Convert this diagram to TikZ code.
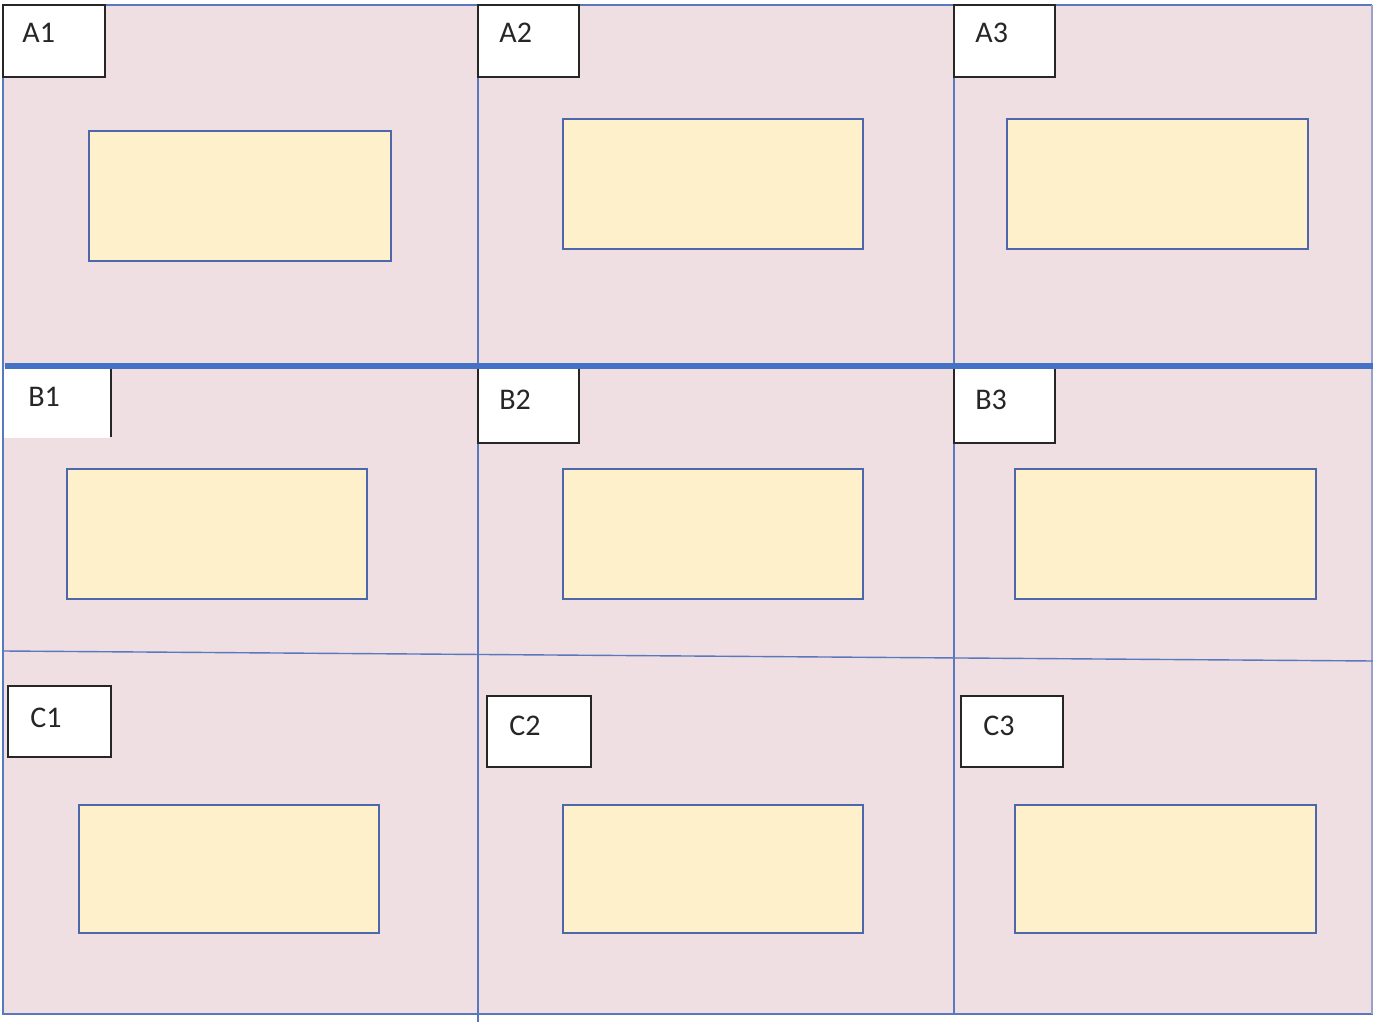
\documentclass[tikz,border=0pt]{standalone}
\usepackage{fontspec}
\setmainfont{Carlito}
\definecolor{pinkbg}{RGB}{239,223,226}
\definecolor{ylw}{RGB}{255,240,204}
\definecolor{bline}{RGB}{68,114,196}
\definecolor{ybord}{RGB}{76,104,170}
\definecolor{gridb}{RGB}{90,120,190}
\begin{document}
\begin{tikzpicture}[x=0.5pt,y=-0.5pt,
  lbl/.style={draw=black!85,fill=white,line width=0.75pt},
  ybox/.style={draw=ybord,fill=ylw,line width=0.75pt},
  gline/.style={draw=gridb,line width=0.7pt},
  txt/.style={anchor=base west,inner sep=0pt,font=\fontsize{15pt}{18pt}\selectfont,text=black!85}]
\useasboundingbox (0,0) rectangle (1373,1022);
% background
\path[fill=pinkbg] (3,5) rectangle (1372,1014);
% outer border
\draw[gline] (1372,5) -- (3,5) -- (3,1014) -- (1373,1014);
\draw[draw=gridb!60!pinkbg,line width=0.6pt] (1372,5) -- (1372,1014);
% grid lines
\draw[gline] (478,5) -- (478,1022);
\draw[gline] (954,5) -- (954,1014);
\draw[gline] (3,651) -- (1373,661);
% yellow boxes
\draw[ybox] (89,131) rectangle (391,261);
\draw[ybox] (563,119) rectangle (863,249);
\draw[ybox] (1007,119) rectangle (1308,249);
\draw[ybox] (67,469) rectangle (367,599);
\draw[ybox] (563,469) rectangle (863,599);
\draw[ybox] (1015,469) rectangle (1316,599);
\draw[ybox] (79,805) rectangle (379,933);
\draw[ybox] (563,805) rectangle (863,933);
\draw[ybox] (1015,805) rectangle (1316,933);
% label boxes
\draw[lbl] (3,5) rectangle (105,77);
\draw[lbl] (478,5) rectangle (579,77);
\draw[lbl] (954,5) rectangle (1055,77);
\fill[white] (4,367) rectangle (110,438);
\draw[black!85,line width=0.75pt] (8,366) -- (111,366) -- (111,437);
\draw[lbl] (478,368) rectangle (579,443);
\draw[lbl] (954,368) rectangle (1055,443);
\draw[lbl] (8,686) rectangle (111,757);
\draw[lbl] (487,696) rectangle (591,767);
\draw[lbl] (961,696) rectangle (1063,767);
% thick line
\draw[bline,line width=2.6pt] (5,366) -- (1373,366);
% texts
\node[txt] (ta1) at (22,43) {A1};
\node[txt] (ta2) at (499,43) {A2};
\node[txt] (ta3) at (975,43) {A3};
\node[txt] (tb1) at (28,407) {B1};
\node[txt] (tb2) at (499,409) {B2};
\node[txt] (tb3) at (975,409) {B3};
\node[txt] (tc1) at (30,727) {C1};
\node[txt] (tc2) at (509,735) {C2};
\node[txt] (tc3) at (983,735) {C3};
\end{tikzpicture}
\end{document}
